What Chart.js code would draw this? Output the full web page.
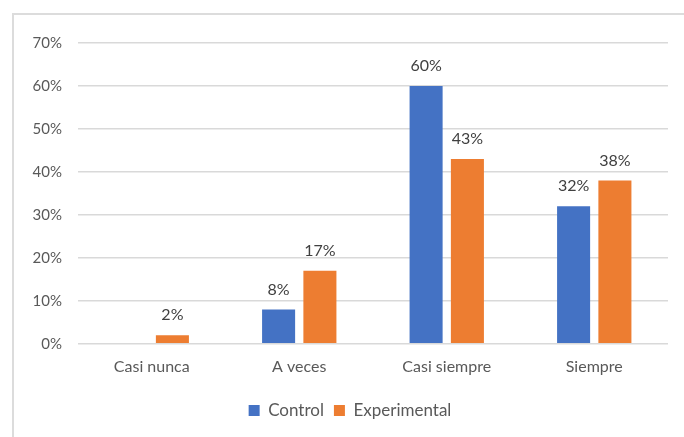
<!DOCTYPE html>
<html>
<head>
<meta charset="utf-8">
<script src="https://cdn.jsdelivr.net/npm/chart.js@4"></script>
<style>
  html, body { margin: 0; padding: 0; background: #fff; }
  #wrap { position: relative; width: 684px; height: 437px; overflow: hidden; }
  #frame { position: absolute; left: 12px; top: 13px; width: 700px; height: 460px;
           border-top: 2px solid #dcdcdc; border-left: 2px solid #dcdcdc; }
  canvas { position: absolute; left: 0; top: 0; }
</style>
</head>
<body>
<div id="wrap">
  <div id="frame"></div>
  <canvas id="chart" width="684" height="437"></canvas>
</div>
<script>
// Data
const categories = ['Casi nunca', 'A veces', 'Casi siempre', 'Siempre'];
const controlValues = [null, 8, 60, 32];
const experimentalValues = [2, 17, 43, 38];
const yTicks = [0, 10, 20, 30, 40, 50, 60, 70];

const FONT = "'Lato', 'Open Sans', sans-serif";

// Value labels above bars
const barLabels = {
  id: 'barLabels',
  afterDatasetsDraw(chart) {
    const ctx = chart.ctx;
    ctx.save();
    ctx.font = '16px ' + FONT;
    ctx.fillStyle = '#404040';
    ctx.textAlign = 'center';
    ctx.textBaseline = 'middle';
    chart.data.datasets.forEach((ds, i) => {
      chart.getDatasetMeta(i).data.forEach((bar, j) => {
        const v = ds.data[j];
        if (v == null) return;
        ctx.fillText(v + '%', bar.x, bar.y - 20);
      });
    });
    ctx.restore();
  }
};

// nudge legend to sit under the plot area like the original
const legendShift = {
  id: 'legendShift',
  beforeDraw(chart) {
    chart.legend.left += 16;
    chart.legend.right += 16;
  }
};

new Chart(document.getElementById('chart'), {
  type: 'bar',
  data: {
    labels: categories,
    datasets: [
      { label: 'Control', data: controlValues, backgroundColor: '#4472C4', borderWidth: 0 },
      { label: 'Experimental', data: experimentalValues, backgroundColor: '#ED7D31', borderWidth: 0 }
    ]
  },
  options: {
    responsive: false,
    animation: false,
    categoryPercentage: 0.56,
    barPercentage: 0.8,
    layout: { padding: { top: 43, right: 16, bottom: 8, left: 0 } },
    plugins: {
      legend: {
        position: 'bottom',
        labels: { color: '#595959', font: { family: FONT, size: 17 },
                  boxWidth: 11, boxHeight: 11, padding: 10 }
      },
      tooltip: { enabled: false }
    },
    scales: {
      x: {
        grid: { display: false },
        border: { display: false },
        afterFit(scale) { scale.height += 11; },
        ticks: { color: '#595959', font: { family: FONT, size: 16 }, padding: 5 }
      },
      y: {
        min: 0, max: 70,
        afterBuildTicks(scale) { scale.ticks = yTicks.map(v => ({ value: v })); },
        afterFit(scale) { scale.width = 78; },
        grid: { color: '#d9d9d9', lineWidth: 1.5, drawTicks: false },
        border: { display: false },
        ticks: { color: '#595959', font: { family: FONT, size: 15 }, padding: 16,
                 callback: v => v + '%' }
      }
    }
  },
  plugins: [barLabels, legendShift]
});
</script>
</body>
</html>
